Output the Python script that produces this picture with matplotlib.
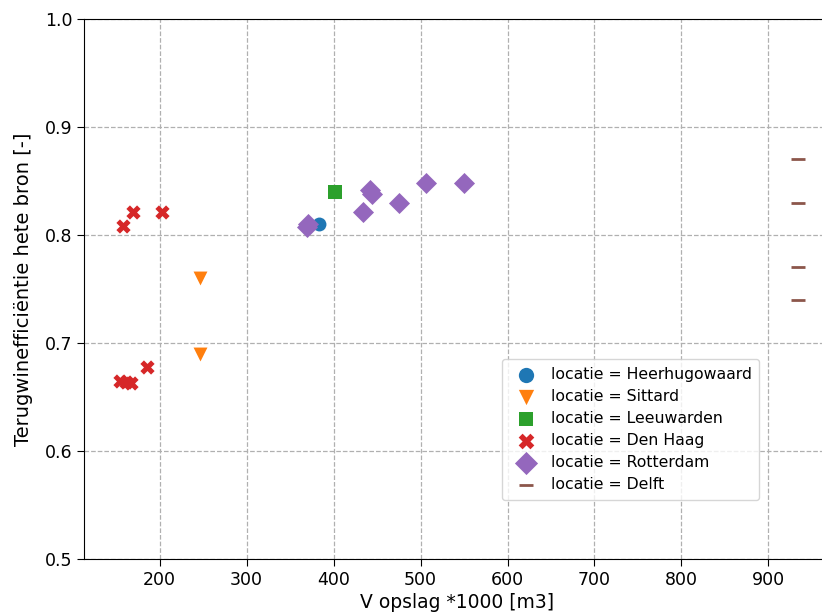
import matplotlib
matplotlib.use('Agg')
import matplotlib.pyplot as plt

# data
locaties = ['Heerhugowaard', 'Sittard', 'Leeuwarden', 'Den Haag', 'Rotterdam', 'Delft']
markers = ['o', 'v', 's', 'X', 'D', '_']
colors = ['#1f77b4', '#ff7f0e', '#2ca02c', '#d62728', '#9467bd', '#8c564b']

heerhugowaard_v = [383]
heerhugowaard_eff = [0.810]

sittard_v = [246, 246]
sittard_eff = [0.760, 0.690]

leeuwarden_v = [402]
leeuwarden_eff = [0.840]

denhaag_v = [158, 169, 203, 154, 161, 167, 185]
denhaag_eff = [0.808, 0.821, 0.821, 0.665, 0.664, 0.663, 0.678]

rotterdam_v = [371, 369, 434, 442, 444, 475, 506, 550]
rotterdam_eff = [0.810, 0.807, 0.821, 0.842, 0.838, 0.830, 0.848, 0.848]

delft_v = [934, 934, 934, 934]
delft_eff = [0.87, 0.83, 0.77, 0.74]

v_data = [heerhugowaard_v, sittard_v, leeuwarden_v, denhaag_v, rotterdam_v, delft_v]
eff_data = [heerhugowaard_eff, sittard_eff, leeuwarden_eff, denhaag_eff, rotterdam_eff, delft_eff]

sizes = {'o': 100, 'v': 100, 's': 90, 'X': 105, 'D': 115, '_': 90}

fig = plt.figure(figsize=(8.22, 6.15), dpi=100)
ax = fig.add_axes([84/822, 56/615, 747/822, 540/615])

for loc, m, c, xs, ys in zip(locaties, markers, colors, v_data, eff_data):
    lw = 2 if m == '_' else 0
    ax.scatter(xs, ys, marker=m, color=c, s=sizes[m], linewidths=lw, label='locatie = ' + loc)

ax.set_xlim(113, 972)
ax.set_ylim(0.5, 1.0)
ax.set_xticks([200, 300, 400, 500, 600, 700, 800, 900])
ax.set_yticks([0.5, 0.6, 0.7, 0.8, 0.9, 1.0])
ax.tick_params(labelsize=12.5, length=5)
ax.grid(True, linestyle='--', color='#b0b0b0', linewidth=0.9)
ax.set_axisbelow(True)
ax.spines['right'].set_visible(False)

ax.set_xlabel('V opslag *1000 [m3]', fontsize=13.5, labelpad=3)
ax.set_ylabel('Terugwinefficiëntie hete bron [-]', fontsize=14, labelpad=8)

ax.legend(loc='lower left', bbox_to_anchor=(0.5596, 0.109), borderaxespad=0,
          fontsize=11.3, handletextpad=0.6, borderpad=0.5, labelspacing=0.45,
          markerscale=1.1)

fig.savefig('out.png', dpi=100)
